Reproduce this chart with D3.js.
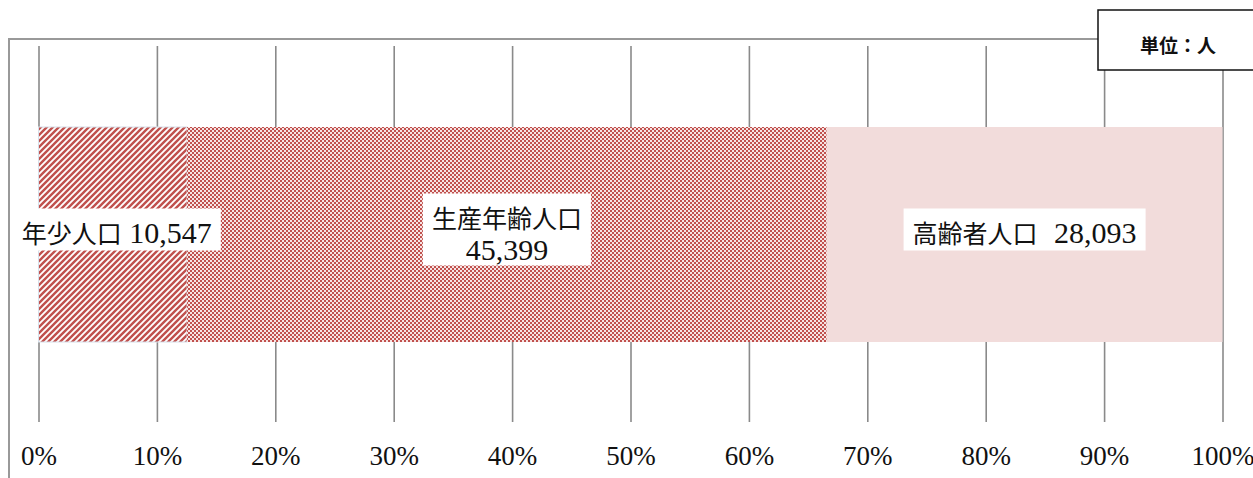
<!DOCTYPE html>
<html>
<head>
<meta charset="utf-8">
<script src="https://cdn.jsdelivr.net/npm/d3@7"></script>
<style>
  body { margin: 0; background: #fff; }
  svg { display: block; }
</style>
</head>
<body>
<div id="chart"></div>
<script>
// population by age group (persons)
var categories = ["年少人口", "生産年齢人口", "高齢者人口"];
var values = [10547, 45399, 28093];
var valueLabels = ["10,547", "45,399", "28,093"];
var tickLabels = ["0%", "10%", "20%", "30%", "40%", "50%", "60%", "70%", "80%", "90%", "100%"];
var unitText = "単位：人";

var width = 1253, height = 478;
var serif = "'Liberation Serif', 'Times New Roman', 'Noto Sans CJK JP', serif";
var cjk = "'Noto Sans CJK JP', sans-serif";

var svg = d3.select("#chart")
    .append("svg")
    .attr("width", width)
    .attr("height", height);

var defs = svg.append("defs");

// diagonal stripes for 年少人口
var stripes = defs.append("pattern")
    .attr("id", "stripes")
    .attr("patternUnits", "userSpaceOnUse")
    .attr("width", 6)
    .attr("height", 6);
stripes.append("rect").attr("width", 6).attr("height", 6).attr("fill", "#fff");
stripes.append("path")
    .attr("d", "M-1,1 L1,-1 M0,6 L6,0 M5,7 L7,5")
    .attr("stroke", "#c0504d")
    .attr("stroke-width", 2.4);

// small checker for 生産年齢人口
var checker = defs.append("pattern")
    .attr("id", "checker")
    .attr("patternUnits", "userSpaceOnUse")
    .attr("width", 4)
    .attr("height", 4);
checker.append("rect").attr("width", 4).attr("height", 4).attr("fill", "#f6e4e3");
checker.append("rect").attr("width", 2).attr("height", 2).attr("fill", "#c0504d");
checker.append("rect").attr("x", 2).attr("y", 2).attr("width", 2).attr("height", 2).attr("fill", "#c0504d");

var fills = ["url(#stripes)", "url(#checker)", "#f2dcdb"];
// label layout: one line or two lines
var twoLine = [false, true, false];

var total = d3.sum(values);
var x = d3.scaleLinear().domain([0, 1]).range([38.5, 1222.5]);

var stacked = [];
var acc = 0;
values.forEach(function(v, i) {
    stacked.push({ name: categories[i], value: v, label: valueLabels[i], x0: acc / total, x1: (acc + v) / total, fill: fills[i], two: twoLine[i] });
    acc += v;
});

// outer frame (top and left)
svg.append("path")
    .attr("d", "M9,478 L9,39 L1098,39")
    .attr("fill", "none")
    .attr("stroke", "#999")
    .attr("stroke-width", 2);

// gridlines + tick labels
var gridTop = 46, gridBottom = 422;
var axis = d3.axisBottom(x)
    .tickValues(d3.range(11).map(function(i) { return i / 10; }))
    .tickFormat(function(d, i) { return tickLabels[i]; })
    .tickSize(gridBottom - gridTop)
    .tickPadding(24);

var gAxis = svg.append("g")
    .attr("transform", "translate(0," + gridTop + ")")
    .call(axis);
gAxis.select(".domain").remove();
gAxis.selectAll("line").attr("stroke", "#8a8a8a").attr("stroke-width", 1.6);
gAxis.selectAll("text")
    .attr("fill", "#111")
    .style("font-family", serif)
    .style("font-size", "27px");

// bar
var barTop = 127, barBottom = 342;
svg.selectAll(".seg")
    .data(stacked)
    .enter()
    .append("rect")
    .attr("class", "seg")
    .attr("x", function(d) { return x(d.x0); })
    .attr("y", barTop)
    .attr("width", function(d) { return x(d.x1) - x(d.x0); })
    .attr("height", barBottom - barTop)
    .attr("fill", function(d) { return d.fill; })
    .attr("stroke", function(d, i) { return i === 0 ? "#d5dfea" : "none"; })
    .attr("stroke-width", 1);

// labels with white boxes
var midY = (barTop + barBottom) / 2;
var lineH = 30;
stacked.forEach(function(d, i) {
    var cx = (x(d.x0) + x(d.x1)) / 2;
    if (i === 0) cx += 4;
    var g = svg.append("g");
    var box = g.append("rect").attr("fill", "#fff");
    var t = g.append("text")
        .attr("text-anchor", "middle")
        .attr("fill", "#111");
    var n = d.two ? 2 : 1;
    var y0 = midY - (n - 1) / 2 * lineH;
    var name = t.append("tspan")
        .attr("x", cx)
        .attr("y", y0)
        .attr("dy", "0.35em")
        .style("font-family", cjk)
        .style("font-size", "25px")
        .text(d.name);
    var num = t.append("tspan")
        .style("font-family", serif)
        .style("font-size", "30px")
        .text(d.label);
    if (d.two) {
        num.attr("x", cx).attr("y", y0 + lineH).attr("dy", "0.35em");
    } else {
        num.attr("dx", i === 2 ? "0.55em" : "0.25em");
    }
    var bb = t.node().getBBox();
    var padX = 9, padY = 5;
    box.attr("x", bb.x - padX)
        .attr("y", midY - n * lineH / 2 - padY - 6)
        .attr("width", bb.width + padX * 2)
        .attr("height", n * lineH + padY * 2 + 2);
});

// unit box
svg.append("rect")
    .attr("x", 1098)
    .attr("y", 10)
    .attr("width", 160)
    .attr("height", 60)
    .attr("fill", "#fff")
    .attr("stroke", "#111")
    .attr("stroke-width", 1.5);
svg.append("text")
    .attr("x", 1178)
    .attr("y", 46)
    .attr("dy", "0.35em")
    .attr("text-anchor", "middle")
    .attr("fill", "#111")
    .style("font-family", cjk)
    .style("font-size", "19px")
    .style("font-weight", "bold")
    .text(unitText);
</script>
</body>
</html>
